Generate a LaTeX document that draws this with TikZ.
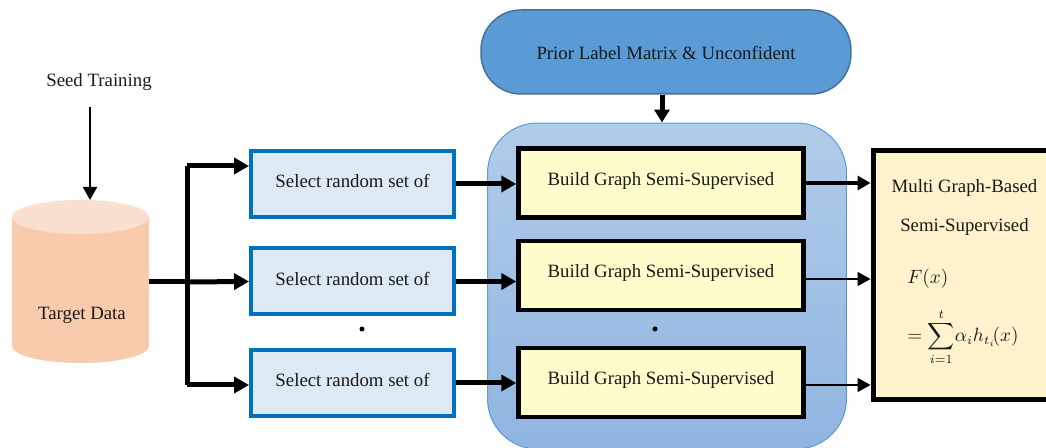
\documentclass[tikz,border=0pt]{standalone}
\usepackage{amsmath, amssymb}
\usepackage{fontspec}
\setmainfont{Liberation Serif}
\usepackage{xcolor}
\usetikzlibrary{arrows.meta}

\definecolor{dbbody}{HTML}{F7CBAC}
\definecolor{dbtop}{HTML}{FBE0CF}
\definecolor{selectblue}{HTML}{0070C0}
\definecolor{selectfill}{HTML}{DEE9F6}
\definecolor{buildfill}{HTML}{FEFDCB}
\definecolor{priorfill}{HTML}{5B9BD5}
\definecolor{priorline}{HTML}{41719C}
\definecolor{panelline}{HTML}{5B9BD5}
\definecolor{paneltop}{HTML}{B1CCEA}
\definecolor{panelbottom}{HTML}{90B5E1}
\definecolor{multifill}{HTML}{FFF2CC}

\tikzset{
	every node/.style={font=\fontsize{10.7}{13}\selectfont, text=black!90},
	selectbox/.style={draw=selectblue, line width=0.08cm, fill=selectfill, minimum width=4.06cm, minimum height=1.32cm, inner sep=0, text height=7.5pt, text depth=3.4pt},
	buildbox/.style={draw=black, line width=0.09cm, fill=buildfill, minimum width=5.7cm, minimum height=1.38cm, inner sep=0, text height=8pt, text depth=5.3pt},
	feed/.style={line width=0.1cm, -{Triangle[length=0.3cm, width=0.32cm]}},
	result/.style={-{Triangle[length=0.26cm, width=0.28cm]}},
	gap/.style={circle, fill=black, inner sep=0, minimum size=0.1cm}
}

\begin{document}
\begin{tikzpicture}[x=0.02cm, y=-0.02cm]

\useasboundingbox (0,0) rectangle (1046,448);

% panel behind the graph boxes
\node[draw=panelline, line width=0.02cm, top color=paneltop, bottom color=panelbottom, rounded corners=1cm, minimum width=7.18cm, minimum height=6.52cm] (panel) at (667,286) {};

\node[draw=priorline, line width=0.03cm, fill=priorfill, rounded corners=0.8cm, minimum width=7.4cm, minimum height=1.68cm] (prior) at (666,52) {};
\node (priortext) at (666,53) {Prior Label Matrix \& Unconfident};

\node (seed) at (99,82) {Seed Training};

% cylinder
\fill[dbbody] (12,217)--(12,346) arc[start angle=180, end angle=0, x radius=68.5, y radius=17]--(149,217)--cycle;
\fill[dbtop] (80.5,217) ellipse [x radius=68.5, y radius=17];
\node[minimum width=2.74cm, minimum height=3.26cm, inner sep=0, outer sep=0] (db) at (80.5,282) {};
\node (dbtext) at (82,315) {Target Data};

\foreach \n/\y in {1/184,2/281.5,3/383}{
	\node[selectbox] (select\n) at (352.5,\y) {Select random set of};
}
\foreach \n/\y in {1/183,2/275.5,3/382.5}{
	\node[buildbox] (build\n) at (661,\y) {Build Graph Semi-Supervised};
}

\node[gap] (dotleft) at (362,329) {};
\node[gap] (dotright) at (655,329) {};

\node[draw=black, line width=0.1cm, fill=multifill, minimum width=4cm, minimum height=4.98cm] (multi) at (973,275) {};
\node (multitexta) at (964.5,188) {Multi Graph-Based};
\node (multitextb) at (964.5,227) {Semi-Supervised};
\node[anchor=west, inner sep=0] (formulaa) at (907,279) {$F(x)$};
\node[anchor=west, inner sep=0] (formulab) at (907,337) {$=\displaystyle\sum_{i=1}^{t}\!\alpha_i h_{t_i}\!(x)$};

\coordinate (seedtail) at (90,107);
\coordinate (seedtip) at (90,200);
\draw[line width=0.04cm, result] (seedtail)--(seedtip);

\draw[line width=0.1cm, -{Triangle[length=0.26cm, width=0.3cm]}] (prior.south -| 662,0)--(panel.north -| 662,0);

% fork from the cylinder
\coordinate (trunktop) at (187,166);
\coordinate (trunkmid) at (187,282);
\coordinate (trunkbot) at (187,385);
\draw[line width=0.1cm] (trunktop)--(trunkbot);
\draw[line width=0.1cm] (db.east)--(trunkmid);
\draw[feed] (trunktop)--(select1.west |- trunktop);
\draw[feed] (trunkmid)--(select2.west);
\draw[feed] (trunkbot)--(select3.west |- trunkbot);

\foreach \n in {1,2,3}{
	\coordinate (hop\n) at (select\n.east);
	\draw[feed] (hop\n)--(hop\n -| build\n.west);
}

\draw[line width=0.07cm, result] (build1.east)--(build1.east -| multi.west);
\draw[line width=0.03cm, result] (build2.east |- 0,279)--(multi.west |- 0,279);
\draw[line width=0.03cm, result] (build3.east |- 0,385)--(multi.west |- 0,385);

\end{tikzpicture}
\end{document}
